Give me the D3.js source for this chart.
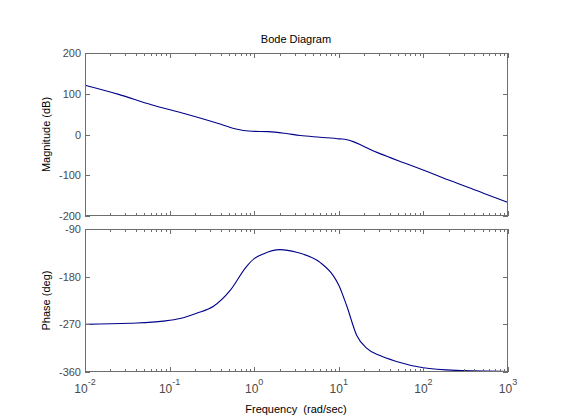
<!DOCTYPE html>
<html><head><meta charset="utf-8">
<script src="https://cdn.jsdelivr.net/npm/d3@7"></script>
<style>body{margin:0;background:#fff;}svg{display:block;}</style>
</head><body>
<script>
const magFreq = [0.01,0.025,0.061,0.152,0.377,0.59,0.93,1.47,2.3,3.5,6,10.3,12.5,14.8,17.8,21,26.6,33.6,42,53,83,131,206,324,512,1000];
const magDb   = [121,98.5,73,51,27,14,8,7,3,-2.5,-6.6,-10.7,-13,-17.5,-24.5,-32,-42,-50,-58,-66,-81,-97,-113,-128,-144,-167];
const phFreq  = [0.01,0.034,0.084,0.133,0.209,0.33,0.52,0.81,1.0,1.28,2.02,3.17,6,8.6,10,12.4,16.3,21.3,30.7,48,100,246,1000];
const phDeg   = [-270,-268,-264,-259,-249,-236,-206,-161,-146,-137,-129,-134,-153,-178,-196,-235,-291,-315,-329,-340,-352,-357,-359];
const magTicks = [-200,-100,0,100,200];
const phTicks = [-360,-270,-180,-90];
const xDecades = [-2,-1,0,1,2,3];

const W=561,H=420;
const svg=d3.select("body").append("svg").attr("width",W).attr("height",H);
const font="Liberation Sans, Arial, Helvetica, sans-serif";
const axisCol="#6e6e6e", textCol="#4a4a4a", lineCol="#000088";

const x=d3.scaleLog().domain([0.01,1000]).range([85,508]);
const yMag=d3.scaleLinear().domain([-200,200]).range([216,53]);
const yPh=d3.scaleLinear().domain([-360,-90]).range([372,229]);

const minor=[];
for(let d=-2;d<3;d++) for(let k=2;k<=9;k++) minor.push(k*Math.pow(10,d));
const major=xDecades.map(d=>Math.pow(10,d));

function panel(y,ticks,freq,vals,label,showX){
  const [y0,y1]=y.range();
  const g=svg.append("g");
  g.append("rect").attr("x",x.range()[0]).attr("y",y1).attr("width",x.range()[1]-x.range()[0]).attr("height",y0-y1).attr("fill","#fff");
  const line=d3.line().x((d,i)=>x(freq[i])).y((d,i)=>y(vals[i])).curve(d3.curveMonotoneX);
  g.append("path").datum(vals).attr("d",line).attr("fill","none").attr("stroke",lineCol).attr("stroke-width",1.1);
  g.append("rect").attr("x",x.range()[0]+0.5).attr("y",y1+0.5).attr("width",x.range()[1]-x.range()[0]-1).attr("height",y0-y1-1)
    .attr("fill","none").attr("stroke",axisCol).attr("stroke-width",1);
  const tk=(vals,len)=>{
    vals.forEach(v=>{
      const px=Math.round(x(v))+0.5;
      g.append("line").attr("x1",px).attr("x2",px).attr("y1",y0).attr("y2",y0-len).attr("stroke",axisCol);
      g.append("line").attr("x1",px).attr("x2",px).attr("y1",y1).attr("y2",y1+len).attr("stroke",axisCol);
    });
  };
  tk(minor,3); tk(major,5);
  ticks.forEach(t=>{
    const py=Math.round(y(t))+0.5;
    g.append("line").attr("x1",x.range()[0]).attr("x2",x.range()[0]+5).attr("y1",py).attr("y2",py).attr("stroke",axisCol);
    g.append("line").attr("x1",x.range()[1]).attr("x2",x.range()[1]-5).attr("y1",py).attr("y2",py).attr("stroke",axisCol);
    g.append("text").attr("x",81).attr("y",y(t)+4).attr("text-anchor","end")
      .attr("font-family",font).attr("font-size",11).attr("fill",textCol).text(t);
  });
  g.append("text").attr("transform",`translate(50,${(y0+y1)/2}) rotate(-90)`).attr("text-anchor","middle")
    .attr("font-family",font).attr("font-size",11).attr("fill","#000").text(label);
  if(showX){
    xDecades.forEach(d=>{
      const t=g.append("text").attr("x",x(Math.pow(10,d))).attr("y",393).attr("text-anchor","middle")
        .attr("font-family",font).attr("font-size",12).attr("fill",textCol);
      t.append("tspan").text("10");
      t.append("tspan").attr("dy",-8).attr("font-size",9).text(d);
    });
  }
}
panel(yMag,magTicks,magFreq,magDb,"Magnitude (dB)",false);
panel(yPh,phTicks,phFreq,phDeg,"Phase (deg)",true);

svg.append("text").attr("x",296).attr("y",43).attr("text-anchor","middle").attr("font-family",font)
  .attr("font-size",11).attr("fill","#000").text("Bode Diagram");
svg.append("text").attr("x",296).attr("y",413).attr("text-anchor","middle").attr("font-family",font)
  .attr("font-size",11).attr("fill","#000").style("white-space","pre").text("Frequency  (rad/sec)");
</script>
</body></html>
